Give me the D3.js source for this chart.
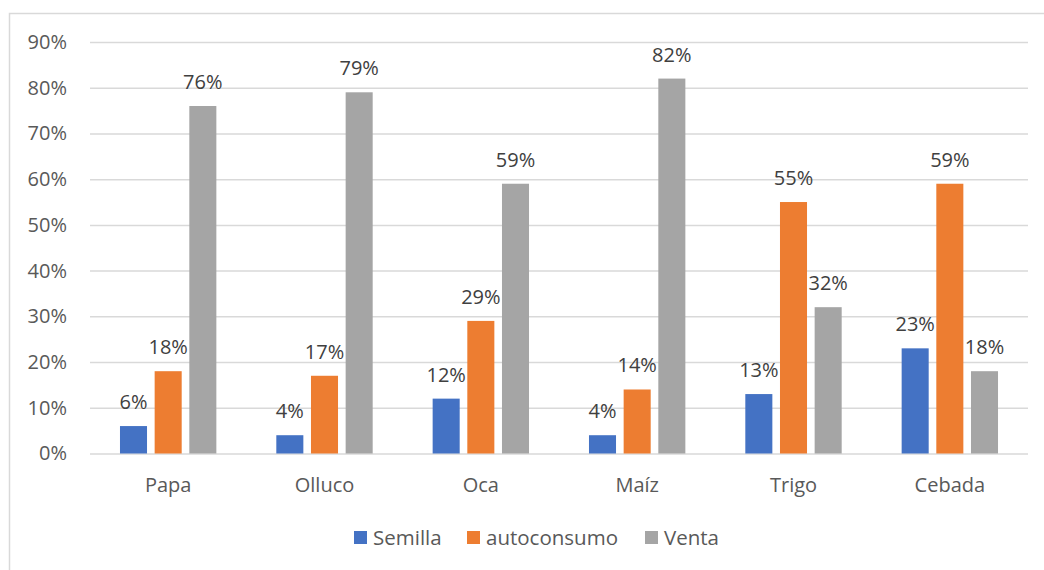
<!DOCTYPE html>
<html><head><meta charset="utf-8">
<script src="https://cdn.jsdelivr.net/npm/d3@7"></script>
<style>body{margin:0;background:#fff}svg{display:block}</style>
</head><body><svg id="c" width="1044" height="570"></svg>
<script>
const categories = ["Papa","Olluco","Oca","Maíz","Trigo","Cebada"];
const seriesNames = ["Semilla","autoconsumo","Venta"];
const semilla = [6,4,12,4,13,23];
const autoconsumo = [18,17,29,14,55,59];
const venta = [76,79,59,82,32,18];
const yTicks = [0,10,20,30,40,50,60,70,80,90];
const colors = ["#4472C4","#ED7D31","#A5A5A5"];
const seriesVals = [semilla, autoconsumo, venta];

(function(){
const svg = d3.select("#c");
const font = "'Open Sans', sans-serif";
const pLeft = 90, pRight = 1028, pTop = 42, pBottom = 453.5;

svg.append("rect").attr("x",9.5).attr("y",13.5).attr("width",1100).attr("height",600)
  .attr("fill","none").attr("stroke","#d9d9d9").attr("stroke-width",1.5);

const y = d3.scaleLinear().domain([0,90]).range([pBottom, pTop]);
const x0 = d3.scaleBand().domain(categories).range([pLeft, pRight]);
const x1 = d3.scaleBand().domain(seriesNames).range([-52, 52]).paddingInner(0.22).paddingOuter(0.11);

const gy = svg.append("g").attr("transform",`translate(${pLeft},0)`)
  .call(d3.axisLeft(y).tickValues(yTicks).tickSize(-(pRight-pLeft)).tickFormat(d=>d+"%"));
gy.select(".domain").remove();
gy.selectAll(".tick line").attr("stroke","#d9d9d9").attr("stroke-width",1.5);
gy.selectAll(".tick text").attr("x",-23).attr("fill","#595959").attr("font-size","20px").attr("font-family",font);

const gx = svg.append("g").attr("transform",`translate(0,${pBottom})`)
  .call(d3.axisBottom(x0).tickSize(0));
gx.select(".domain").remove();
gx.selectAll(".tick text").attr("dy","0").attr("y",38).attr("fill","#595959").attr("font-size","20px").attr("font-family",font);

const groups = svg.selectAll("g.cat").data(categories).join("g").attr("class","cat")
  .attr("transform",d=>`translate(${x0(d)+x0.bandwidth()/2},0)`);
seriesNames.forEach((s,si)=>{
  groups.append("rect")
    .attr("x",x1(s)).attr("width",x1.bandwidth())
    .attr("y",(d,i)=>y(seriesVals[si][i]))
    .attr("height",(d,i)=>pBottom-y(seriesVals[si][i]))
    .attr("fill",colors[si]);
  groups.append("text")
    .attr("x",x1(s)+x1.bandwidth()/2)
    .attr("y",(d,i)=>y(seriesVals[si][i])-17)
    .attr("text-anchor","middle").attr("fill","#404040")
    .attr("font-size","20px").attr("font-family",font)
    .text((d,i)=>seriesVals[si][i]+"%");
});

const legendX = [354, 467, 645];
const lg = svg.append("g");
seriesNames.forEach((s,i)=>{
  lg.append("rect").attr("x",legendX[i]).attr("y",531).attr("width",13).attr("height",13).attr("fill",colors[i]);
  lg.append("text").attr("x",legendX[i]+19).attr("y",544.5).attr("fill","#595959")
    .attr("font-size","20.5px").attr("font-family",font).text(s);
});
})();
</script></body></html>
